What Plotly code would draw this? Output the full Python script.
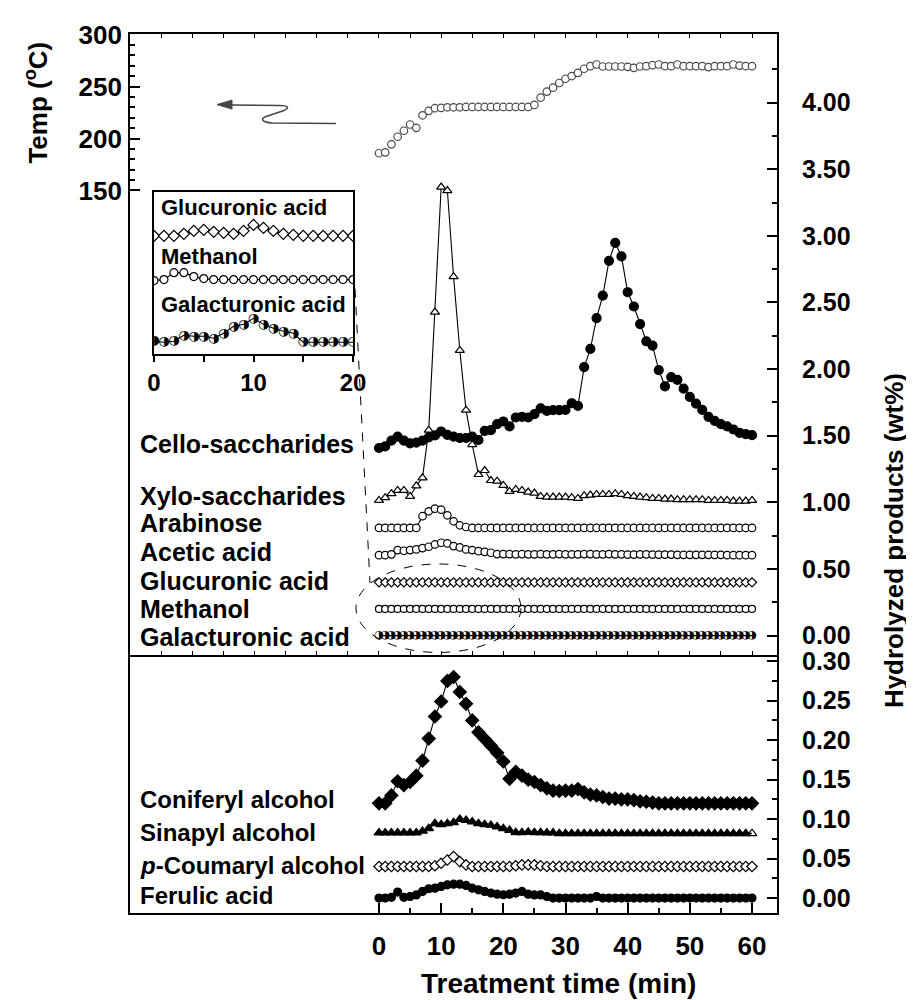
import plotly.graph_objects as go

# ---------------- data ----------------
time_min = [0, 1, 2, 3, 4, 5, 6, 7, 8, 9, 10, 11, 12, 13, 14, 15, 16, 17, 18, 19, 20,
            21, 22, 23, 24, 25, 26, 27, 28, 29, 30, 31, 32, 33, 34, 35, 36, 37, 38, 39, 40,
            41, 42, 43, 44, 45, 46, 47, 48, 49, 50, 51, 52, 53, 54, 55, 56, 57, 58, 59, 60]

temperature = [185.8, 186.7, 194.4, 201.7, 207.5, 213.5, 210.3, 222.4, 226.7, 229.2,
               229.5, 230.1, 230.1, 230.1, 230.4, 230.4, 230.4, 230.4, 230.4, 230.4,
               230.4, 230.4, 230.4, 230.4, 230.4, 232.4, 239.4, 245.2, 249.0, 253.5,
               257.6, 260.2, 263.3, 267.2, 269.7, 271.3, 269.4, 269.4, 269.4, 269.4,
               269.1, 268.1, 269.4, 269.7, 270.7, 271.3, 269.7, 269.7, 271.3, 269.7,
               269.7, 269.7, 269.7, 268.8, 269.7, 269.7, 269.7, 271.3, 270.3, 269.7, 269.7]

cello = [1.408, 1.420, 1.463, 1.493, 1.463, 1.443, 1.448, 1.463, 1.488, 1.502,
         1.532, 1.507, 1.493, 1.483, 1.483, 1.493, 1.468, 1.537, 1.542, 1.587,
         1.607, 1.570, 1.637, 1.642, 1.637, 1.662, 1.706, 1.687, 1.692, 1.692,
         1.694, 1.744, 1.724, 2.015, 2.152, 2.383, 2.552, 2.813, 2.948, 2.846,
         2.577, 2.470, 2.338, 2.209, 2.177, 1.993, 1.871, 1.940, 1.920, 1.853,
         1.791, 1.741, 1.694, 1.642, 1.612, 1.587, 1.570, 1.547, 1.522, 1.512, 1.505]

xylo = [1.015, 1.035, 1.065, 1.090, 1.090, 1.045, 1.124, 1.184, 1.542, 2.428,
        3.366, 3.340, 2.694, 2.140, 1.692, 1.433, 1.209, 1.239, 1.164, 1.159,
        1.127, 1.082, 1.097, 1.090, 1.077, 1.070, 1.045, 1.040, 1.040, 1.040,
        1.040, 1.035, 1.030, 1.050, 1.055, 1.060, 1.060, 1.060, 1.065, 1.060,
        1.050, 1.045, 1.040, 1.035, 1.030, 1.030, 1.025, 1.025, 1.020, 1.020,
        1.020, 1.020, 1.020, 1.015, 1.015, 1.015, 1.015, 1.010, 1.010, 1.010, 1.015]

arabinose = [0.808, 0.808, 0.808, 0.808, 0.808, 0.808, 0.808, 0.896, 0.933, 0.953,
             0.945, 0.903, 0.858, 0.828, 0.815, 0.808, 0.808, 0.808, 0.808, 0.808,
             0.808, 0.808, 0.808, 0.808, 0.808, 0.808, 0.808, 0.808, 0.808, 0.808,
             0.808, 0.808, 0.808, 0.808, 0.808, 0.808, 0.808, 0.808, 0.808, 0.808,
             0.808, 0.808, 0.808, 0.808, 0.808, 0.808, 0.808, 0.808, 0.808, 0.808,
             0.808, 0.808, 0.808, 0.808, 0.808, 0.808, 0.808, 0.808, 0.808, 0.808, 0.808]

acetic = [0.604, 0.604, 0.610, 0.642, 0.637, 0.642, 0.647, 0.657, 0.667, 0.684,
          0.697, 0.692, 0.672, 0.662, 0.647, 0.642, 0.634, 0.629, 0.622, 0.612,
          0.612, 0.612, 0.610, 0.612, 0.610, 0.610, 0.612, 0.610, 0.610, 0.612,
          0.610, 0.610, 0.610, 0.612, 0.612, 0.610, 0.610, 0.612, 0.610, 0.610,
          0.608, 0.608, 0.610, 0.610, 0.608, 0.608, 0.608, 0.608, 0.606, 0.606,
          0.606, 0.606, 0.606, 0.606, 0.606, 0.606, 0.604, 0.604, 0.604, 0.604, 0.604]

glucuronic = [0.40, 0.40, 0.40, 0.40, 0.40, 0.40, 0.40, 0.40, 0.40, 0.40,
              0.40, 0.40, 0.40, 0.40, 0.40, 0.40, 0.40, 0.40, 0.40, 0.40,
              0.40, 0.40, 0.40, 0.40, 0.40, 0.40, 0.40, 0.40, 0.40, 0.40,
              0.40, 0.40, 0.40, 0.40, 0.40, 0.40, 0.40, 0.40, 0.40, 0.40,
              0.40, 0.40, 0.40, 0.40, 0.40, 0.40, 0.40, 0.40, 0.40, 0.40,
              0.40, 0.40, 0.40, 0.40, 0.40, 0.40, 0.40, 0.40, 0.40, 0.40, 0.40]

methanol = [0.20, 0.20, 0.20, 0.20, 0.20, 0.20, 0.20, 0.20, 0.20, 0.20,
            0.20, 0.20, 0.20, 0.20, 0.20, 0.20, 0.20, 0.20, 0.20, 0.20,
            0.20, 0.20, 0.20, 0.20, 0.20, 0.20, 0.20, 0.20, 0.20, 0.20,
            0.20, 0.20, 0.20, 0.20, 0.20, 0.20, 0.20, 0.20, 0.20, 0.20,
            0.20, 0.20, 0.20, 0.20, 0.20, 0.20, 0.20, 0.20, 0.20, 0.20,
            0.20, 0.20, 0.20, 0.20, 0.20, 0.20, 0.20, 0.20, 0.20, 0.20, 0.20]

galacturonic = [0.00, 0.00, 0.00, 0.00, 0.00, 0.00, 0.00, 0.00, 0.00, 0.00,
                0.00, 0.00, 0.00, 0.00, 0.00, 0.00, 0.00, 0.00, 0.00, 0.00,
                0.00, 0.00, 0.00, 0.00, 0.00, 0.00, 0.00, 0.00, 0.00, 0.00,
                0.00, 0.00, 0.00, 0.00, 0.00, 0.00, 0.00, 0.00, 0.00, 0.00,
                0.00, 0.00, 0.00, 0.00, 0.00, 0.00, 0.00, 0.00, 0.00, 0.00,
                0.00, 0.00, 0.00, 0.00, 0.00, 0.00, 0.00, 0.00, 0.00, 0.00, 0.00]

coniferyl = [0.120, 0.120, 0.130, 0.148, 0.143, 0.147, 0.155, 0.174, 0.202, 0.230,
             0.249, 0.275, 0.280, 0.261, 0.246, 0.225, 0.210, 0.2015, 0.193, 0.184,
             0.173, 0.151, 0.160, 0.155, 0.150, 0.147, 0.143, 0.139, 0.136, 0.1356,
             0.136, 0.136, 0.138, 0.134, 0.131, 0.130, 0.128, 0.126, 0.126, 0.125,
             0.125, 0.124, 0.1225, 0.122, 0.121, 0.120, 0.120, 0.120, 0.120, 0.120,
             0.120, 0.120, 0.120, 0.120, 0.120, 0.120, 0.120, 0.120, 0.120, 0.120, 0.120]

sinapyl = [0.0827, 0.0827, 0.0827, 0.0827, 0.0827, 0.0827, 0.0827, 0.0848, 0.0882, 0.0945,
           0.0932, 0.0945, 0.0957, 0.0999, 0.0987, 0.0966, 0.0945, 0.0932, 0.0924, 0.0903,
           0.0882, 0.0860, 0.0831, 0.0831, 0.0836, 0.0831, 0.0831, 0.0827, 0.0827, 0.0819,
           0.0819, 0.0819, 0.0819, 0.0819, 0.0819, 0.0819, 0.0819, 0.0819, 0.0819, 0.0819,
           0.0819, 0.0819, 0.0819, 0.0819, 0.0819, 0.0819, 0.0819, 0.0819, 0.0819, 0.0819,
           0.0819, 0.0819, 0.0819, 0.0819, 0.0819, 0.0819, 0.0819, 0.0819, 0.0819, 0.0819, 0.0819]

coumaryl = [0.040, 0.040, 0.040, 0.040, 0.040, 0.040, 0.040, 0.040, 0.040, 0.041,
            0.0441, 0.0483, 0.0525, 0.0462, 0.042, 0.040, 0.040, 0.040, 0.040, 0.040,
            0.040, 0.040, 0.041, 0.042, 0.042, 0.042, 0.041, 0.040, 0.040, 0.040,
            0.040, 0.040, 0.040, 0.040, 0.040, 0.040, 0.040, 0.040, 0.040, 0.040,
            0.040, 0.040, 0.040, 0.040, 0.040, 0.040, 0.040, 0.040, 0.040, 0.040,
            0.040, 0.040, 0.040, 0.040, 0.040, 0.040, 0.040, 0.040, 0.040, 0.040, 0.040]

ferulic = [0.000, 0.000, 0.001, 0.0076, 0.001, 0.002, 0.004, 0.0084, 0.0118, 0.0126,
           0.0147, 0.0168, 0.0176, 0.0176, 0.016, 0.0126, 0.0105, 0.0084, 0.0063, 0.005,
           0.0042, 0.005, 0.0063, 0.0084, 0.005, 0.004, 0.004, 0.002, 0.000, 0.000,
           0.000, 0.000, 0.000, 0.000, 0.000, 0.002, 0.000, 0.000, 0.000, 0.000,
           0.000, 0.000, 0.000, 0.000, 0.000, 0.000, 0.000, 0.000, 0.000, 0.000,
           0.000, 0.000, 0.000, 0.000, 0.000, 0.000, 0.000, 0.000, 0.000, 0.000, 0.000]

# inset (first 20 min, arbitrary vertical units)
inset_time = [0, 1, 2, 3, 4, 5, 6, 7, 8, 9, 10, 11, 12, 13, 14, 15, 16, 17, 18, 19, 20]
inset_glucuronic = [119, 119, 119, 121, 124, 125, 123, 122, 121, 124, 130,
                    127, 124, 121, 120, 119, 119, 119, 119, 119, 119]
inset_methanol = [74, 75, 82, 82, 78, 76, 75, 75, 75, 75, 75,
                  75, 75, 75, 75, 75, 75, 75, 75, 75, 75]
inset_galacturonic = [13, 12, 13, 19, 18, 18, 16, 21, 28, 30, 36,
                      30, 26, 23, 21, 12, 12, 12, 12, 12, 12]

top_labels = ["Cello-saccharides", "Xylo-saccharides", "Arabinose", "Acetic acid",
              "Glucuronic acid", "Methanol", "Galacturonic acid"]
bottom_labels = ["Coniferyl alcohol", "Sinapyl alcohol", "<i>p</i>-Coumaryl alcohol", "Ferulic acid"]
inset_labels = ["Glucuronic acid", "Methanol", "Galacturonic acid"]

top_ticks = [0.0, 0.5, 1.0, 1.5, 2.0, 2.5, 3.0, 3.5, 4.0]
bottom_ticks = [0.0, 0.05, 0.10, 0.15, 0.20, 0.25, 0.30]
temp_ticks = [150, 200, 250, 300]
x_ticks = [0, 10, 20, 30, 40, 50, 60]
inset_ticks = [0, 10, 20]

HALF_DOT = "\u25D1"  # circle with right half black (marker of galacturonic acid)

# ---------------- geometry helpers ----------------
W, H = 914, 1000
ML, MR, MT, MB = 122, 145, 21, 95
PW = W - ML - MR
PH = H - MT - MB


def px(x):
    return (x - ML) / PW


def py(y):
    return (H - MB - y) / PH


FONT = "Arial, 'Liberation Sans', Helvetica, sans-serif"
BLK = "black"

fig = go.Figure()


def series(x, y, xa, ya, symbol, size, fill, lw=1.1, mode="lines+markers"):
    return go.Scatter(
        x=x, y=y, xaxis=xa, yaxis=ya, mode=mode,
        line=dict(color=BLK, width=lw),
        marker=dict(symbol=symbol, size=size, color=fill, line=dict(color=BLK, width=1.2)),
        showlegend=False, hoverinfo="skip",
    )


def half_dots(x, y, xa, ya, size):
    return go.Scatter(
        x=x, y=y, xaxis=xa, yaxis=ya, mode="lines+text", text=[HALF_DOT] * len(x),
        textposition="middle center",
        textfont=dict(family="DejaVu Sans", size=size, color=BLK),
        line=dict(color=BLK, width=1.1), showlegend=False, hoverinfo="skip",
    )


# temperature
fig.add_trace(go.Scatter(
    x=time_min, y=temperature, xaxis="x2", yaxis="y3", mode="markers",
    marker=dict(symbol="circle", size=7.5, color="white", line=dict(color="#4a4a4a", width=1.2)),
    showlegend=False, hoverinfo="skip"))

# top panel series
fig.add_trace(half_dots(time_min, galacturonic, "x2", "y2", 11))
fig.add_trace(series(time_min, methanol, "x2", "y2", "circle", 7, "white"))
fig.add_trace(series(time_min, glucuronic, "x2", "y2", "diamond", 7, "white"))
fig.add_trace(series(time_min, acetic, "x2", "y2", "circle", 7.5, "white"))
fig.add_trace(series(time_min, arabinose, "x2", "y2", "circle", 7.5, "white"))
fig.add_trace(series(time_min, xylo, "x2", "y2", "triangle-up", 8, "white"))
fig.add_trace(series(time_min, cello, "x2", "y2", "circle", 9, BLK))

# bottom panel series
fig.add_trace(series(time_min, ferulic, "x", "y", "circle", 8, BLK))
fig.add_trace(series(time_min, coumaryl, "x", "y", "diamond", 8, "white"))
sin_tr = series(time_min, sinapyl, "x", "y", "triangle-up", 8.5, BLK)
sin_tr.marker.symbol = ["triangle-up"] * (len(sinapyl) - 1) + ["triangle-up-open"]
fig.add_trace(sin_tr)
fig.add_trace(series(time_min, coniferyl, "x", "y", "diamond", 10, BLK))

# inset series
fig.add_trace(series(inset_time, inset_glucuronic, "x3", "y4", "diamond", 8.5, "white"))
fig.add_trace(series(inset_time, inset_methanol, "x3", "y4", "circle", 8, "white"))
fig.add_trace(half_dots(inset_time, inset_galacturonic, "x3", "y4", 13))

# ---------------- axes ----------------
tick_font = dict(family=FONT, size=26, color=BLK, weight="bold")
right_font = dict(family=FONT, size=25, color=BLK, weight="bold")
x_range = [-40.05, 64.02]
split = py(646)

fig.update_layout(
    width=W, height=H,
    margin=dict(l=ML, r=MR, t=MT, b=MB, pad=0),
    paper_bgcolor="white", plot_bgcolor="rgba(0,0,0,0)",
    font=dict(family=FONT, color=BLK),
    showlegend=False,
    xaxis=dict(domain=[0, 1], anchor="y", range=x_range, tickmode="array", tickvals=x_ticks,
               ticks="inside", ticklen=10, tickwidth=2, tickcolor=BLK,
               minor=dict(tickmode="array", tickvals=[5, 15, 25, 35, 45, 55], ticks="inside",
                          ticklen=5, tickwidth=1.5, tickcolor=BLK),
               showline=True, linewidth=2, linecolor=BLK, mirror=False,
               showgrid=False, zeroline=False, tickfont=tick_font, ticklabelstandoff=9),
    xaxis2=dict(domain=[0, 1], anchor="y2", range=x_range, tickmode="linear", tick0=0, dtick=5,
                ticks="inside", ticklen=4, tickwidth=1, tickcolor=BLK,
                showline=True, linewidth=2, linecolor=BLK, mirror="ticks",
                showgrid=False, zeroline=False, showticklabels=False),
    yaxis=dict(domain=[0, split], anchor="x", side="right", range=[-0.0189, 0.3073],
               tickmode="array", tickvals=bottom_ticks, ticktext=[f"{v:.2f}" for v in bottom_ticks],
               ticks="inside", ticklen=10, tickwidth=2, tickcolor=BLK,
               minor=dict(tickmode="array", tickvals=[0.025, 0.075, 0.125, 0.175, 0.225, 0.275],
                          ticks="inside", ticklen=5, tickwidth=1.5, tickcolor=BLK),
               showline=True, linewidth=2, linecolor=BLK, mirror=True,
               showgrid=False, zeroline=False, tickfont=right_font, ticklabelstandoff=18),
    yaxis2=dict(domain=[split, 1], anchor="x2", side="right", range=[-0.149, 4.515],
                tickmode="array", tickvals=top_ticks, ticktext=[f"{v:.2f}" for v in top_ticks],
                ticks="inside", ticklen=10, tickwidth=2, tickcolor=BLK,
                minor=dict(tickmode="array",
                           tickvals=[0.25, 0.75, 1.25, 1.75, 2.25, 2.75, 3.25, 3.75, 4.25],
                           ticks="inside", ticklen=5, tickwidth=1.5, tickcolor=BLK),
                showline=True, linewidth=2, linecolor=BLK, mirror=True,
                showgrid=False, zeroline=False, tickfont=right_font, ticklabelstandoff=18),
    yaxis3=dict(overlaying="y2", anchor="x2", side="left", range=[-298, 300.7],
                tickmode="array", tickvals=temp_ticks,
                ticks="inside", ticklen=10, tickwidth=2, tickcolor=BLK,
                minor=dict(tickmode="array",
                           tickvals=[160, 170, 180, 190, 210, 220, 230, 240, 260, 270, 280, 290],
                           ticks="inside", ticklen=5, tickwidth=1.5, tickcolor=BLK),
                showline=False, showgrid=False, zeroline=False, tickfont=tick_font,
                ticklabelstandoff=7),
    xaxis3=dict(domain=[px(146), px(345)], anchor="y4", range=[0, 20], tickmode="array",
                tickvals=inset_ticks, ticks="outside", ticklen=6, tickwidth=1.5, tickcolor=BLK,
                minor=dict(tickmode="array", tickvals=[5, 15], ticks="outside", ticklen=6,
                           tickwidth=1.5, tickcolor=BLK),
                showline=True, linewidth=1.5, linecolor=BLK, mirror=True,
                showgrid=False, zeroline=False,
                tickfont=dict(family=FONT, size=24, color=BLK, weight="bold")),
    yaxis4=dict(domain=[py(343), py(180)], anchor="x3", range=[0, 163],
                showline=True, linewidth=1.5, linecolor=BLK, mirror=True,
                showgrid=False, zeroline=False, ticks="", showticklabels=False),
)

# ---------------- annotations ----------------
ann = []
lab_font = dict(family=FONT, size=25, color=BLK, weight="bold")
for text, yy in zip(top_labels, [433, 486, 513, 542, 571, 599, 627]):
    ann.append(dict(text=text, x=px(130), y=py(yy), xref="paper", yref="paper",
                    xanchor="left", yanchor="middle", showarrow=False, font=lab_font))
for text, yy in zip(bottom_labels, [791, 824, 857, 887]):
    ann.append(dict(text=text, x=px(130), y=py(yy), xref="paper", yref="paper",
                    xanchor="left", yanchor="middle", showarrow=False,
                    font=dict(family=FONT, size=24, color=BLK, weight="bold")))
for text, yy in zip(inset_labels, [195, 245, 293]):
    ann.append(dict(text=text, x=px(151), y=py(yy), xref="paper", yref="paper",
                    xanchor="left", yanchor="middle", showarrow=False,
                    font=dict(family=FONT, size=22, color=BLK, weight="bold")))

ann.append(dict(text="Treatment time (min)", x=px(550), y=py(976), xref="paper", yref="paper",
                xanchor="center", yanchor="middle", showarrow=False,
                font=dict(family=FONT, size=28, color=BLK, weight="bold")))
ann.append(dict(text="Hydrolyzed products (wt%)", x=px(886), y=py(531), xref="paper", yref="paper",
                xanchor="center", yanchor="middle", showarrow=False, textangle=-90,
                font=dict(family=FONT, size=26, color=BLK, weight="bold")))
ann.append(dict(text="Temp (<sup>o</sup>C)", x=px(29), y=py(90), xref="paper", yref="paper",
                xanchor="center", yanchor="middle", showarrow=False, textangle=-90,
                font=dict(family=FONT, size=26, color=BLK, weight="bold")))
fig.update_layout(annotations=ann)

# ---------------- decorative shapes ----------------


def P(x, y):
    return f"{px(x):.5f},{py(y):.5f}"


arrow_path = (f"M {P(328, 111)} L {P(264, 110.5)} C {P(254, 110)} {P(252, 106)} {P(258, 104)} "
              f"L {P(276, 98)} C {P(282, 95)} {P(280, 93)} {P(272, 93)} L {P(222, 92.5)}")
head_path = f"M {P(209, 92)} L {P(224, 87.5)} L {P(224, 96.5)} Z"

fig.update_layout(shapes=[
    dict(type="circle", xref="paper", yref="paper", x0=px(348), x1=px(513), y0=py(643), y1=py(554),
         line=dict(color=BLK, width=1, dash="dash")),
    dict(type="line", xref="paper", yref="paper", x0=px(347), y0=py(277), x1=px(362), y1=py(573),
         line=dict(color=BLK, width=1, dash="dash")),
    dict(type="path", xref="paper", yref="paper", path=arrow_path,
         line=dict(color="#444444", width=1.5)),
    dict(type="path", xref="paper", yref="paper", path=head_path,
         line=dict(color="#444444", width=1), fillcolor="#444444"),
])

fig.write_html("out.html")
